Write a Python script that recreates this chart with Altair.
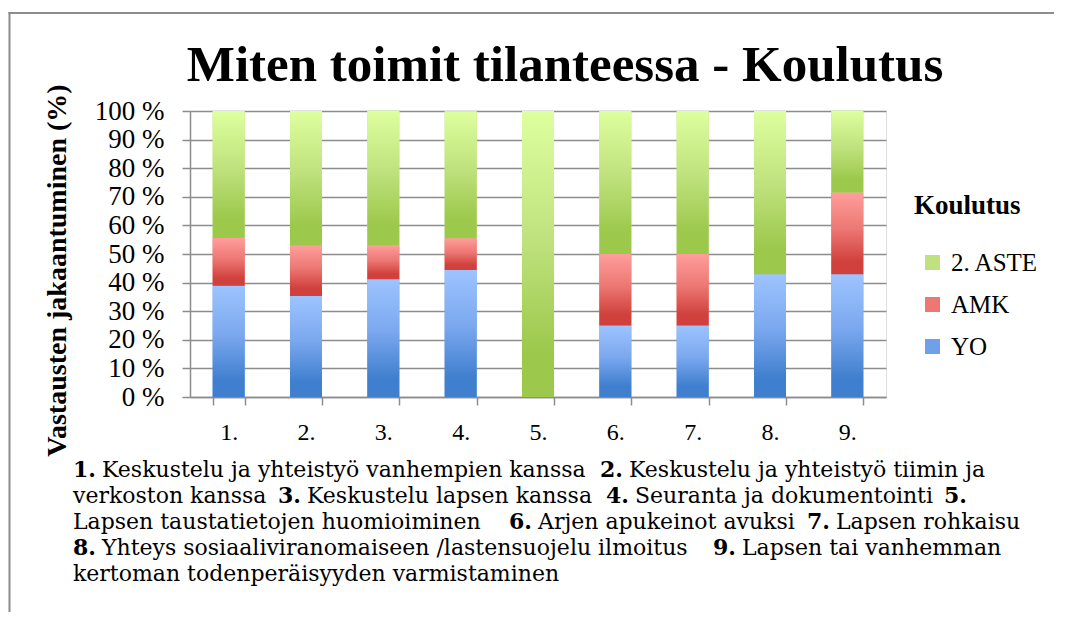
import altair as alt
import pandas as pd

# ---- data ----
categories = ["1.", "2.", "3.", "4.", "5.", "6.", "7.", "8.", "9."]
series_names = ["YO", "AMK", "2. ASTE"]
yo_values = [38.9, 35.3, 41.2, 44.4, 0.0, 25.0, 25.0, 42.9, 42.9]
amk_values = [16.7, 17.6, 11.8, 11.1, 0.0, 25.0, 25.0, 0.0, 28.6]
aste_values = [44.4, 47.1, 47.1, 44.4, 100.0, 50.0, 50.0, 57.1, 28.6]
y_ticks = [0, 10, 20, 30, 40, 50, 60, 70, 80, 90, 100]

chart_title = "Miten toimit tilanteessa - Koulutus"
y_title = "Vastausten jakaantuminen (%)"
legend_title = "Koulutus"

caption_lines = [
    [("1.", True), ("Keskustelu ja yhteistyö vanhempien kanssa", False), ("2.", True), ("Keskustelu ja yhteistyö tiimin ja", False)],
    [("verkoston kanssa", False), ("3.", True), ("Keskustelu lapsen kanssa", False), ("4.", True), ("Seuranta ja dokumentointi", False), ("5.", True)],
    [("Lapsen taustatietojen huomioiminen", False), ("6.", True), ("Arjen apukeinot avuksi", False), ("7.", True), ("Lapsen rohkaisu", False)],
    [("8.", True), ("Yhteys sosiaaliviranomaiseen /lastensuojelu ilmoitus", False), ("9.", True), ("Lapsen tai vanhemman", False)],
    [("kertoman todenperäisyyden varmistaminen", False)],
]

rows = []
for i, c in enumerate(categories):
    for order, (name, vals) in enumerate(zip(series_names, [yo_values, amk_values, aste_values])):
        rows.append({"cat": c, "series": name, "value": vals[i], "order": order})
df = pd.DataFrame(rows)

# ---- layout (page px -> plot px) ----
OX, OY = 190, 111
W, H = 696, 286
TOTAL_W, TOTAL_H = 1046, 604
SERIF = "Liberation Serif"
CAP_FONT = "DejaVu Serif"
GRID = "#8c8c8c"

# x positions (page px) of the caption segments' starts; regular text follows a number
number_x = {"1.": 73, "2.": 600, "3.": 278, "4.": 606, "5.": 944, "6.": 509, "7.": 807, "8.": 73, "9.": 713}
line_baselines = [477, 503, 529, 555, 581]
after_number = 29


def grad(top, mid, bottom):
    return alt.LinearGradient(
        gradient="linear", x1=0, x2=0, y1=0, y2=1,
        stops=[alt.GradientStop(color=top, offset=0),
               alt.GradientStop(color=mid, offset=0.45),
               alt.GradientStop(color=bottom, offset=0.85),
               alt.GradientStop(color=bottom, offset=1)])


gradients = {
    "YO": grad("#9DC4FF", "#7AA7EE", "#3F7FCE"),
    "AMK": grad("#FF9E9B", "#EC7773", "#D0403C"),
    "2. ASTE": grad("#DDFF9E", "#BFE27E", "#9CC84B"),
}

x_enc = alt.X(
    "cat:N", sort=categories, title=None,
    scale=alt.Scale(paddingInner=0.586, paddingOuter=0.293),
    axis=alt.Axis(labelAngle=0, labelFont=SERIF, labelFontSize=24, labelColor="black",
                  tickBand="extent", tickSize=8, tickColor=GRID, tickWidth=1.5,
                  domainColor=GRID, domainWidth=1.5, labelPadding=15, grid=False),
)
y_enc = alt.Y(
    "v1:Q", scale=alt.Scale(domain=[0, 100], nice=False),
    axis=alt.Axis(values=y_ticks, labelExpr="datum.value + ' %'", labelFont=SERIF,
                  labelFontSize=27, labelColor="black", labelPadding=18,
                  tickSize=8, tickColor=GRID, tickWidth=1.5, domainColor=GRID, domainWidth=1.5,
                  grid=True, gridColor=GRID, gridWidth=1.5,
                  title=y_title, titleFont=SERIF, titleFontSize=28, titleFontWeight="bold",
                  titleColor="black", titleAngle=270, titleAlign="center",
                  titleBaseline="alphabetic", titleX=65.5 - OX, titleY=270 - OY),
)

base = alt.Chart(df).transform_stack(
    stack="value", groupby=["cat"], as_=["v0", "v1"], sort=[alt.SortField("order", order="ascending")]
)

legend_layer = base.mark_bar().encode(
    x=x_enc, y=y_enc, y2="v0:Q",
    color=alt.Color(
        "series:N",
        scale=alt.Scale(domain=["2. ASTE", "AMK", "YO"], range=["#BFE27E", "#EC7773", "#6FA0E8"]),
        legend=alt.Legend(title=legend_title, orient="none", legendX=914 - OX, legendY=193 - OY,
                          titleFont=SERIF, titleFontSize=27, titleFontWeight="bold", titleColor="black",
                          titlePadding=30, labelFont=SERIF, labelFontSize=25, labelColor="black",
                          symbolType="square", symbolSize=225, symbolStrokeWidth=0, symbolOffset=6,
                          labelOffset=6, rowPadding=16, padding=0),
    ),
)

layers = [legend_layer]
for name in series_names:
    layers.append(
        base.transform_filter(alt.datum.series == name)
        .mark_bar(color=gradients[name])
        .encode(x=x_enc, y=y_enc, y2="v0:Q")
    )

for li, segs in enumerate(caption_lines):
    cur_x = 73
    for text, bold in segs:
        if bold:
            cur_x = number_x[text]
        layers.append(
            alt.Chart(alt.Data(values=[{"t": text}]))
            .mark_text(align="left", baseline="alphabetic", font=CAP_FONT, fontSize=22,
                       fontWeight="bold" if bold else "normal", color="black")
            .encode(text="t:N", x=alt.value(cur_x - OX), y=alt.value(line_baselines[li] - OY))
        )
        if bold:
            cur_x = cur_x + after_number

# outer frame: thin filled strips for its top and left edges (the others lie outside the picture)
frame_top = alt.Chart(alt.Data(values=[{"f": 1}])).mark_rect(color=GRID, strokeWidth=0).encode(
    x=alt.value(8.5 - OX), x2=alt.value(TOTAL_W + 8 - OX), y=alt.value(12 - OY), y2=alt.value(14 - OY))
frame_left = alt.Chart(alt.Data(values=[{"f": 1}])).mark_rect(color=GRID, strokeWidth=0).encode(
    x=alt.value(8.5 - OX), x2=alt.value(10.5 - OX), y=alt.value(12 - OY), y2=alt.value(TOTAL_H + 8 - OY))
layers += [frame_top, frame_left]

chart = alt.layer(*layers).properties(
    width=W, height=H,
    title=alt.TitleParams(text=chart_title, font=SERIF, fontSize=51, fontWeight="bold", color="black",
                          anchor="middle", frame="group", dx=27, dy=120, baseline="alphabetic", offset=0),
    autosize=alt.AutoSizeParams(type="none"),
    padding={"left": OX - 8, "top": OY - 8, "right": TOTAL_W - (OX - 8) - W,
             "bottom": TOTAL_H - (OY - 8) - H},
).configure_view(stroke=None).configure(background="white")

chart.save("out.html", embed_options={"renderer": "svg", "actions": False})
